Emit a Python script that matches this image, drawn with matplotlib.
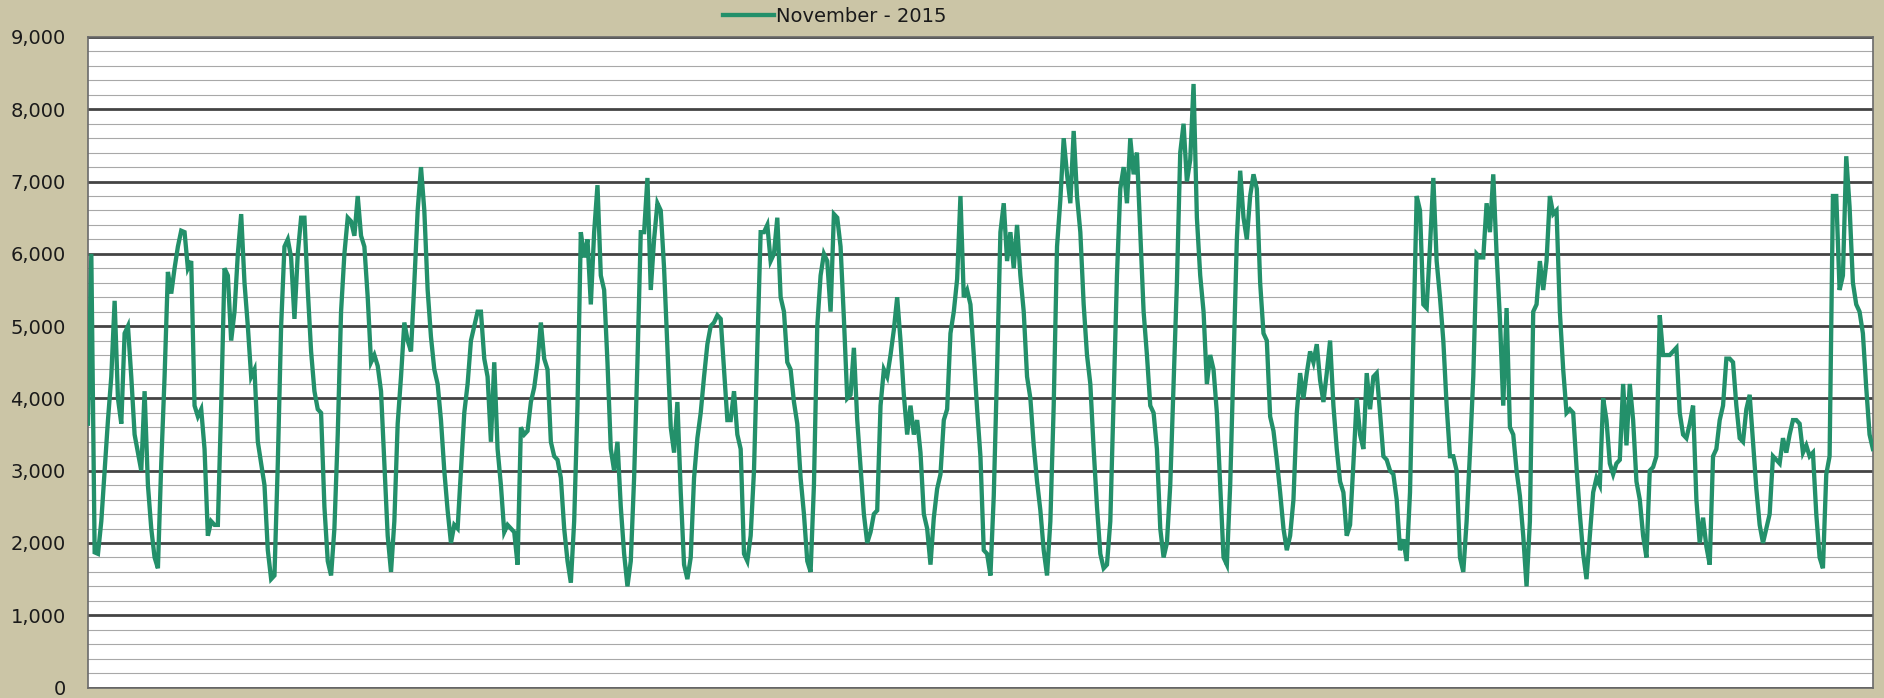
import matplotlib.pyplot as plt
import numpy as np
from matplotlib.ticker import MultipleLocator, FuncFormatter

# hourly-ish readings for November 2015 in order
load_a = [3650, 6000, 1870, 1850, 2300, 3000, 3700, 4300, 5350, 4000,
          3650, 4900, 5000, 4300, 3500, 3250, 3000, 4100, 2800, 2200,
          1800, 1650, 3100, 4300, 5750, 5450, 5800, 6100, 6320, 6300,
          5800, 5900, 3900, 3750, 3850, 3300, 2100, 2300, 2250, 2250,
          3900, 5800, 5700, 4800, 5200, 6000, 6550, 5600, 5000, 4300,
          4400, 3400, 3100, 2800, 1900, 1500, 1550, 3100, 5000, 6100]
load_b = [6200, 5950, 5100, 6000, 6500, 6500, 5500, 4650, 4100, 3850,
          3800, 2500, 1750, 1550, 2200, 3500, 5200, 6000, 6500, 6450,
          6250, 6800, 6250, 6100, 5400, 4500, 4600, 4450, 4100, 3100,
          2100, 1600, 2300, 3650, 4300, 5050, 4800, 4650, 5600, 6600,
          7200, 6600, 5500, 4850, 4400, 4200, 3700, 3000, 2450, 2000,
          2250, 2200, 3000, 3800, 4200, 4800, 5000, 5200]
load_c = [5200, 4550, 4300, 3400, 4500, 3300, 2800, 2150, 2250, 2200,
          2150, 1700, 3600, 3500, 3550, 3950, 4150, 4500, 5050, 4550,
          4400, 3400, 3200, 3150, 2900, 2200, 1750, 1450, 2300, 3900,
          6300, 5950, 6200, 5300, 6300, 6950, 5700, 5500, 4500, 3300,
          3000, 3400, 2500, 1850, 1400, 1750, 2900, 4500, 6300, 6300,
          7050, 5500, 6200, 6700, 6600, 5800, 4700, 3600]
load_d = [3250, 3950, 2700, 1700, 1500, 1800, 2900, 3450, 3800, 4300,
          4750, 5000, 5050, 5150, 5100, 4400, 3700, 3700, 4100, 3500,
          3300, 1850, 1750, 2100, 3000, 4700, 6300, 6300, 6400, 5900,
          6000, 6500, 5400, 5200, 4500, 4400, 3950, 3650, 2900, 2400,
          1750, 1600, 2800, 5000, 5700, 6000, 5900, 5200, 6550, 6500,
          6100, 5100, 4000, 4050, 4700, 3700, 3050, 2400, 2000]
load_e = [2150, 2400, 2450, 3900, 4400, 4300, 4600, 4950, 5400, 4800,
          4050, 3500, 3900, 3500, 3700, 3250, 2400, 2200, 1700, 2350,
          2750, 2950, 3700, 3850, 4900, 5200, 5650, 6800, 5400, 5500,
          5300, 4600, 3850, 3200, 1900, 1850, 1550, 2650, 4400, 6300,
          6700, 5900, 6300, 5800, 6400, 5700, 5200, 4300, 4000, 3350,
          2850, 2450, 1900, 1550, 2300, 3900, 6100, 6750, 7600]
load_f = [7100, 6700, 7700, 6800, 6300, 5300, 4600, 4200, 3300, 2500,
          1850, 1650, 1700, 2300, 4000, 5700, 6900, 7200, 6700, 7600,
          7100, 7400, 6300, 5200, 4600, 3900, 3800, 3300, 2200, 1800,
          2000, 2800, 4200, 5600, 7400, 7800, 7000, 7300, 8350, 6500,
          5700, 5200, 4200, 4600, 4400, 3800, 2800, 1800, 1700, 2800,
          4500, 6200, 7150, 6500, 6200, 6800, 7100, 6900]
load_g = [5600, 4900, 4800, 3750, 3550, 3150, 2700, 2200, 1900, 2100,
          2600, 3800, 4350, 4000, 4350, 4650, 4500, 4750, 4250, 3950,
          4350, 4800, 3900, 3300, 2850, 2700, 2100, 2250, 3100, 4000,
          3500, 3300, 4350, 3850, 4300, 4350, 3800, 3200, 3150, 3000,
          2950, 2600, 1900, 2050, 1750, 2700, 4800, 6800, 6600, 5300,
          5250, 6100, 7050, 5900, 5400, 4800, 3900, 3200]
load_h = [3200, 3000, 1800, 1600, 2300, 3250, 4300, 6000, 5950, 5950,
          6700, 6300, 7100, 6000, 5100, 3900, 5250, 3600, 3500, 3000,
          2650, 2100, 1400, 2300, 5200, 5300, 5900, 5500, 5900, 6800,
          6550, 6600, 5200, 4400, 3800, 3850, 3800, 3050, 2400, 1850,
          1500, 2100, 2700, 2900, 2800, 4000, 3700, 3100, 2950, 3100,
          3150, 4200, 3350, 4200, 3700, 2850, 2600, 2100, 1800]
load_i = [3000, 3050, 3200, 5150, 4600, 4600, 4600, 4650, 4700, 3800,
          3500, 3450, 3650, 3900, 2600, 2000, 2350, 1950, 1700, 3200,
          3300, 3700, 3900, 4550, 4550, 4500, 3900, 3450, 3400, 3850,
          4050, 3400, 2750, 2250, 2000, 2200, 2400, 3200, 3150, 3100,
          3450, 3250, 3500, 3700, 3700, 3650, 3250, 3350, 3200, 3250,
          2400, 1800, 1650, 2950, 3200, 6800, 6800, 5500, 5700, 7350,
          6650, 5600, 5300, 5200, 4900, 4150, 3500, 3300]

load = np.array(load_a + load_b + load_c + load_d + load_e +
                load_f + load_g + load_h + load_i)
x = np.arange(len(load))

bg = '#cbc5a6'
fig = plt.figure(figsize=(18.84, 6.98), dpi=100, facecolor=bg)
ax = fig.add_axes([0.0467, 0.015, 0.9474, 0.932])
ax.set_facecolor('white')

ax.plot(x, load, color='#23906a', lw=3.1, solid_joinstyle='miter',
        label='November - 2015', zorder=3)

ax.set_xlim(0, len(load) - 1)
ax.set_ylim(0, 9000)
ax.yaxis.set_major_locator(MultipleLocator(1000))
ax.yaxis.set_minor_locator(MultipleLocator(200))
ax.yaxis.set_major_formatter(FuncFormatter(lambda v, p: f'{int(v):,}'))
ax.set_xticks([])
ax.grid(which='minor', axis='y', color='#a8a8a8', lw=0.8)
ax.grid(which='major', axis='y', color='#444444', lw=2.0)
ax.set_axisbelow(True)
ax.tick_params(axis='y', which='both', length=0, pad=16, labelsize=14,
               labelcolor='#1a1a1a')

for s in ax.spines.values():
    s.set_color('#6a6a6a')
    s.set_linewidth(1.2)

leg = fig.legend(loc='center', bbox_to_anchor=(0.443, 0.977), frameon=False,
                 handlelength=2.6, handletextpad=0.1,
                 prop={'family': ['Liberation Sans Narrow', 'DejaVu Sans'], 'size': 14})
for t in leg.get_texts():
    t.set_color('#1a1a1a')

fig.savefig('out.png', dpi=100, facecolor=bg)
